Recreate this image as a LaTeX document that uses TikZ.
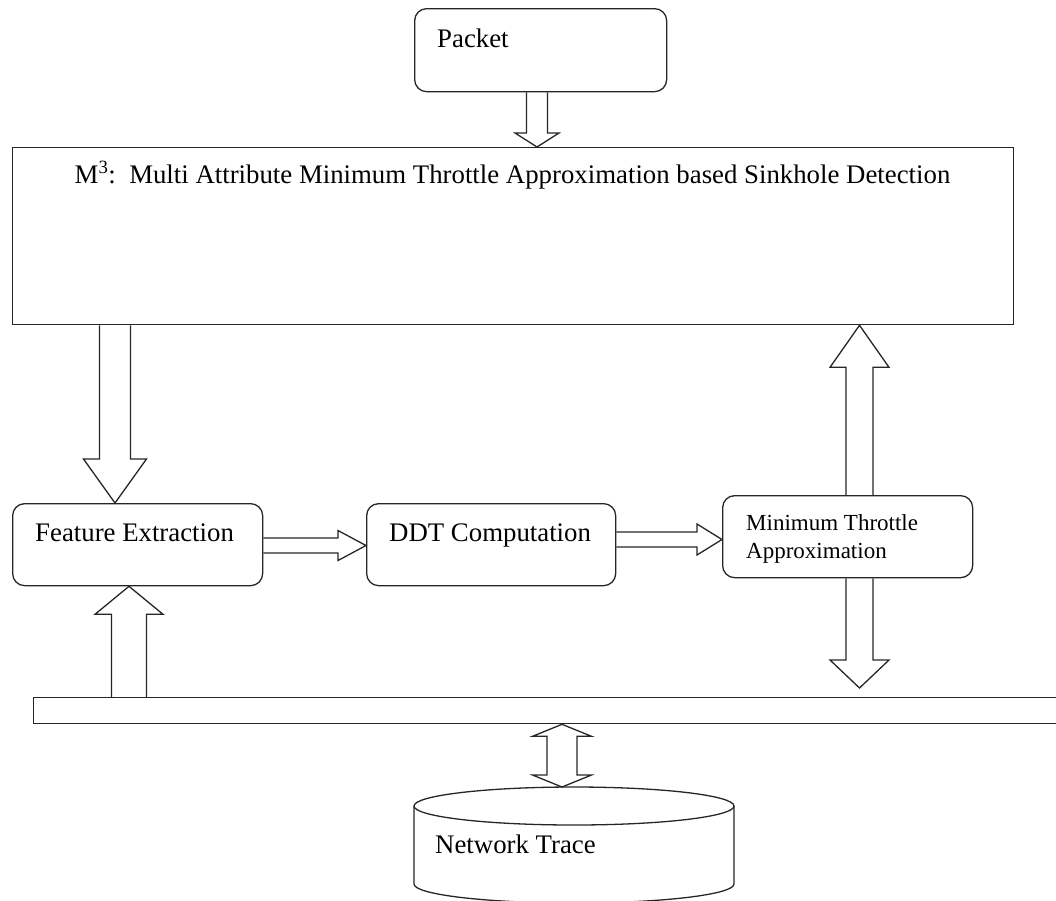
\documentclass[tikz,border=0pt]{standalone}
\usepackage{fontspec}
\setmainfont{Liberation Serif}
\usetikzlibrary{calc}
\tikzset{
  boxline/.style={draw=black!85, line width=1.3pt},
  rbox/.style={boxline, rounded corners=12pt, anchor=north west, inner sep=0pt},
  sbox/.style={boxline, anchor=north west, inner sep=0pt},
  barrow/.style={draw=black!85, line width=1.3pt, line join=miter},
  lbl/.style={inner sep=0pt, anchor=base west, font=\fontsize{26.8}{32}\selectfont},
  slbl/.style={inner sep=0pt, anchor=base west, font=\fontsize{23}{28}\selectfont},
}
\newcommand{\blockarr}[5]{%
  \path (#1) coordinate (ba-s) (#2) coordinate (ba-t);
  \path ($(ba-t)!#5!(ba-s)$) coordinate (ba-h);
  \draw[barrow] ($(ba-s)!#3!90:(ba-t)$) -- ($(ba-h)!#3!90:(ba-t)$) -- ($(ba-h)!#4!90:(ba-t)$) -- (ba-t) -- ($(ba-h)!#4!-90:(ba-t)$) -- ($(ba-h)!#3!-90:(ba-t)$) -- ($(ba-s)!#3!-90:(ba-t)$);
}
\newcommand{\dblockarr}[5]{%
  \path (#1) coordinate (da-a) (#2) coordinate (da-b);
  \path ($(da-a)!#5!(da-b)$) coordinate (da-ha) ($(da-b)!#5!(da-a)$) coordinate (da-hb);
  \draw[barrow] (da-a) -- ($(da-ha)!#4!90:(da-b)$) -- ($(da-ha)!#3!90:(da-b)$) -- ($(da-hb)!#3!-90:(da-a)$) -- ($(da-hb)!#4!-90:(da-a)$) -- (da-b) -- ($(da-hb)!#4!90:(da-a)$) -- ($(da-hb)!#3!90:(da-a)$) -- ($(da-ha)!#3!-90:(da-b)$) -- ($(da-ha)!#4!-90:(da-b)$) -- cycle;
}
\begin{document}
\begin{tikzpicture}[x=1pt, y=-1pt]
\useasboundingbox (0,0) rectangle (1056,900);
\clip (0,0) rectangle (1056,900);

% boxes
\node[rbox, minimum width=252pt, minimum height=83pt] (packet) at (414,8) {};
\node[lbl] (packettext) at (437,47) {Packet};

\node[sbox, minimum width=1001pt, minimum height=177pt] (title) at (12,147) {};
\node[lbl, anchor=base] (titletext) at (512.5,183) {M\textsuperscript{3}:\ \ Multi Attribute Minimum Throttle Approximation based Sinkhole Detection};

\node[rbox, minimum width=250pt, minimum height=82pt] (fe) at (12,503) {};
\node[lbl] (fetext) at (35,541) {Feature Extraction};

\node[rbox, minimum width=249pt, minimum height=82pt] (ddt) at (366,503) {};
\node[lbl] (ddttext) at (389,541) {DDT Computation};

\node[rbox, minimum width=250pt, minimum height=82pt] (mta) at (722,495) {};
\node[slbl] (mtatext1) at (746,530) {Minimum Throttle};
\node[slbl] (mtatext2) at (746,558) {Approximation};

\node[sbox, minimum width=1040pt, minimum height=26pt] (bar) at (33,697) {};

% cylinder
\coordinate (tracetop) at (574,787);
\draw[boxline] (574,806) ellipse [x radius=160, y radius=19];
\draw[boxline] (414,806) -- (414,884) arc[start angle=180, end angle=0, x radius=160, y radius=19] -- (734,806);
\node[lbl] (tracetext) at (435,853) {Network Trace};

% block arrows
\coordinate (tipdown) at (859.5,688);
\blockarr{537,0 |- packet.south}{537,0 |- title.north}{10.5pt}{22pt}{14pt}
\blockarr{115,0 |- title.south}{115,0 |- fe.north}{15.5pt}{31.5pt}{44pt}
\blockarr{129,0 |- bar.north}{129,0 |- fe.south}{17.5pt}{34pt}{28pt}
\blockarr{fe.east |- 0,545.5}{ddt.west |- 0,545.5}{7.5pt}{15pt}{28pt}
\blockarr{ddt.east |- 0,539.5}{mta.west |- 0,539.5}{7.5pt}{15.5pt}{25pt}
\blockarr{859.5,0 |- mta.north}{859.5,0 |- title.south}{13.5pt}{29.5pt}{42pt}
\blockarr{859.5,0 |- mta.south}{tipdown}{13.5pt}{29.5pt}{28pt}
\dblockarr{562,0 |- bar.south}{562,0 |- tracetop}{15pt}{29.5pt}{12pt}
\end{tikzpicture}
\end{document}
